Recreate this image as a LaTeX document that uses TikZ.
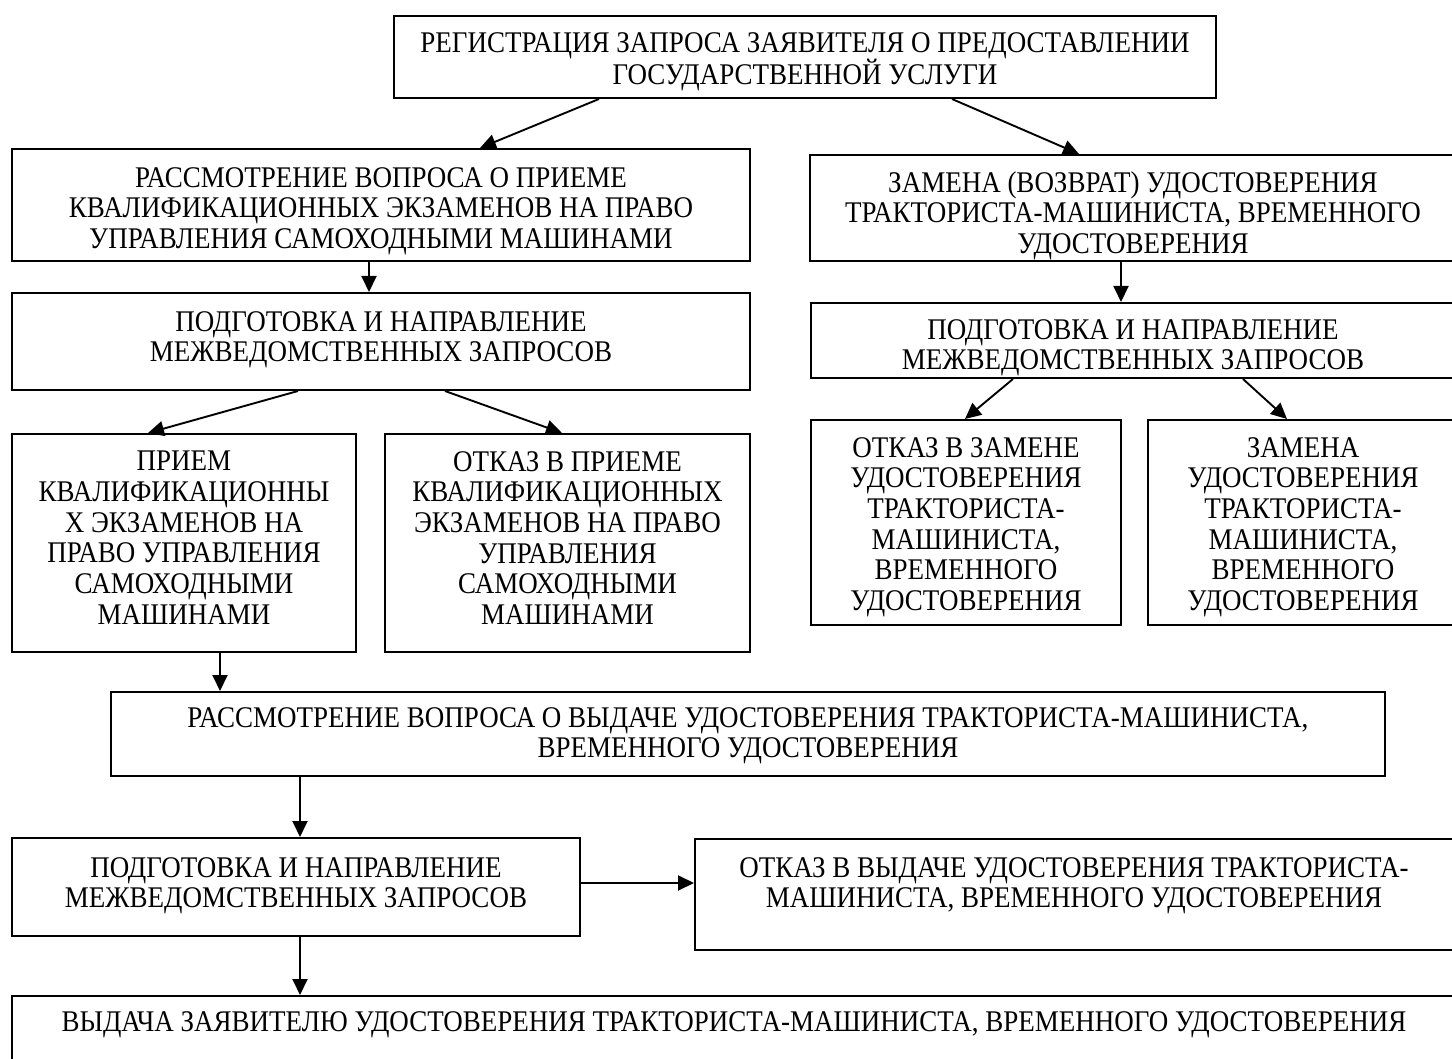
\documentclass[tikz,border=0pt]{standalone}
\usepackage{fontspec}
\setmainfont{Liberation Serif}[FakeStretch=0.9]
\usetikzlibrary{arrows.meta}
\begin{document}
\begin{tikzpicture}[x=1pt,y=-1pt,
  boxst/.style={draw=black, line width=2pt, inner sep=0pt, rectangle},
  txt/.style={anchor=north, align=center, inner sep=0pt, font=\fontsize{30}{30.7}\selectfont},
  arr/.style={draw=black, line width=1.9pt, -{Triangle[length=16pt,width=15pt]}}]
\useasboundingbox (0,0) rectangle (1452,1059);
\clip (0,0) rectangle (1452,1059);
\fill[white] (0,0) rectangle (1452,1059);
% boxes
\node[boxst, minimum width=822pt, minimum height=82pt] (b0) at (805,57) {};
\node[boxst, minimum width=738pt, minimum height=112pt] (b1) at (381,205) {};
\node[boxst, minimum width=646pt, minimum height=106pt] (b2) at (1133,208) {};
\node[boxst, minimum width=738pt, minimum height=97pt] (b3) at (381,341.5) {};
\node[boxst, minimum width=644pt, minimum height=75pt] (b4) at (1133,340.5) {};
\node[boxst, minimum width=344pt, minimum height=218pt] (b5) at (184,543) {};
\node[boxst, minimum width=365pt, minimum height=218pt] (b6) at (567.5,543) {};
\node[boxst, minimum width=310pt, minimum height=205pt] (b7) at (966,522.5) {};
\node[boxst, minimum width=310pt, minimum height=205pt] (b8) at (1303,522.5) {};
\node[boxst, minimum width=1274pt, minimum height=84pt] (b9) at (748,734) {};
\node[boxst, minimum width=568pt, minimum height=98pt] (b10) at (296,887) {};
\node[boxst, minimum width=758pt, minimum height=111pt] (b11) at (1074,894.5) {};
\node[boxst, minimum width=1444pt, minimum height=90pt] (b12) at (734,1041) {};
% texts
\node[txt] (t0) at ([yshift=-17pt]b0.north) {РЕГИСТРАЦИЯ ЗАПРОСА ЗАЯВИТЕЛЯ О ПРЕДОСТАВЛЕНИИ\\ГОСУДАРСТВЕННОЙ УСЛУГИ};
\node[txt] (t1) at ([yshift=-19pt]b1.north) {РАССМОТРЕНИЕ ВОПРОСА О ПРИЕМЕ\\КВАЛИФИКАЦИОННЫХ ЭКЗАМЕНОВ НА ПРАВО\\УПРАВЛЕНИЯ САМОХОДНЫМИ МАШИНАМИ};
\node[txt] (t2) at ([yshift=-17pt]b2.north) {ЗАМЕНА (ВОЗВРАТ) УДОСТОВЕРЕНИЯ\\ТРАКТОРИСТА-МАШИНИСТА, ВРЕМЕННОГО\\УДОСТОВЕРЕНИЯ};
\node[txt] (t3) at ([yshift=-19pt]b3.north) {ПОДГОТОВКА И НАПРАВЛЕНИЕ\\МЕЖВЕДОМСТВЕННЫХ ЗАПРОСОВ};
\node[txt] (t4) at ([yshift=-17pt]b4.north) {ПОДГОТОВКА И НАПРАВЛЕНИЕ\\МЕЖВЕДОМСТВЕННЫХ ЗАПРОСОВ};
\node[txt] (t5) at ([yshift=-18pt]b5.north) {ПРИЕМ\\КВАЛИФИКАЦИОННЫ\\Х ЭКЗАМЕНОВ НА\\ПРАВО УПРАВЛЕНИЯ\\САМОХОДНЫМИ\\МАШИНАМИ};
\node[txt] (t6) at ([yshift=-18pt]b6.north) {ОТКАЗ В ПРИЕМЕ\\КВАЛИФИКАЦИОННЫХ\\ЭКЗАМЕНОВ НА ПРАВО\\УПРАВЛЕНИЯ\\САМОХОДНЫМИ\\МАШИНАМИ};
\node[txt] (t7) at ([yshift=-18pt]b7.north) {ОТКАЗ В ЗАМЕНЕ\\УДОСТОВЕРЕНИЯ\\ТРАКТОРИСТА-\\МАШИНИСТА,\\ВРЕМЕННОГО\\УДОСТОВЕРЕНИЯ};
\node[txt] (t8) at ([yshift=-18pt]b8.north) {ЗАМЕНА\\УДОСТОВЕРЕНИЯ\\ТРАКТОРИСТА-\\МАШИНИСТА,\\ВРЕМЕННОГО\\УДОСТОВЕРЕНИЯ};
\node[txt] (t9) at ([yshift=-16pt]b9.north) {РАССМОТРЕНИЕ ВОПРОСА О ВЫДАЧЕ УДОСТОВЕРЕНИЯ ТРАКТОРИСТА-МАШИНИСТА,\\ВРЕМЕННОГО УДОСТОВЕРЕНИЯ};
\node[txt] (t10) at ([yshift=-20pt]b10.north) {ПОДГОТОВКА И НАПРАВЛЕНИЕ\\МЕЖВЕДОМСТВЕННЫХ ЗАПРОСОВ};
\node[txt] (t11) at ([yshift=-19pt]b11.north) {ОТКАЗ В ВЫДАЧЕ УДОСТОВЕРЕНИЯ ТРАКТОРИСТА-\\МАШИНИСТА, ВРЕМЕННОГО УДОСТОВЕРЕНИЯ};
\node[txt] (t12) at ([yshift=-16pt]b12.north) {ВЫДАЧА ЗАЯВИТЕЛЮ УДОСТОВЕРЕНИЯ ТРАКТОРИСТА-МАШИНИСТА, ВРЕМЕННОГО УДОСТОВЕРЕНИЯ};
% connectors
\draw[arr] ([xshift=-206pt]b0.south) -- ([xshift=99pt]b1.north);
\draw[arr] ([xshift=147pt]b0.south) -- ([xshift=-54pt]b2.north);
\draw[arr] ([xshift=-12pt]b1.south) -- ([xshift=-12pt]b1.south |- b3.north);
\draw[arr] ([xshift=-12pt]b2.south) -- ([xshift=-12pt]b2.south |- b4.north);
\draw[arr] ([xshift=-83pt]b3.south) -- ([xshift=-36pt]b5.north);
\draw[arr] ([xshift=64pt]b3.south) -- ([xshift=-5.5pt]b6.north);
\draw[arr] ([xshift=-120pt]b4.south) -- ([xshift=-1pt]b7.north);
\draw[arr] ([xshift=110pt]b4.south) -- ([xshift=-16pt]b8.north);
\draw[arr] ([xshift=36pt]b5.south) -- ([xshift=36pt]b5.south |- b9.north);
\draw[arr] ([xshift=4pt]b10.north |- b9.south) -- ([xshift=4pt]b10.north);
\draw[arr] ([yshift=4pt]b10.east) -- ([yshift=4pt]b10.east -| b11.west);
\draw[arr] ([xshift=4pt]b10.south) -- ([xshift=4pt]b10.south |- b12.north);
\end{tikzpicture}
\end{document}
